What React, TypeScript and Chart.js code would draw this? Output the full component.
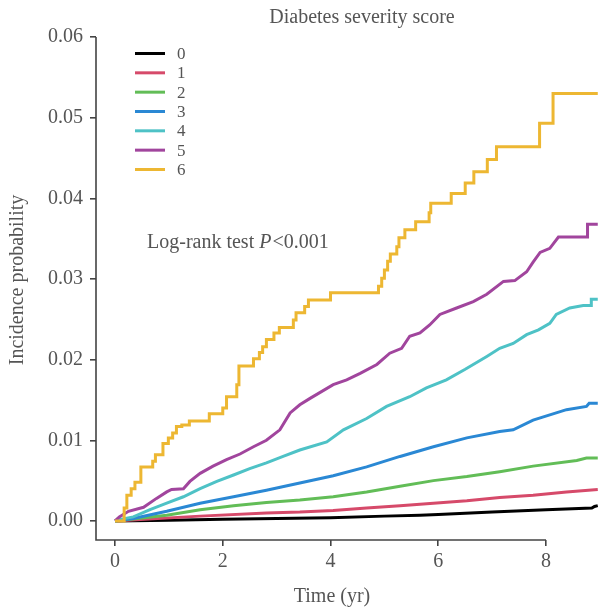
import React, { useEffect, useRef } from "react";
import { Chart, registerables } from "chart.js";
Chart.register(...registerables);

const chartTitle = "Diabetes severity score";
const xTitle = "Time (yr)";
const yTitle = "Incidence probability";
const annotationPrefix = "Log-rank test ";
const annotationItalic = "P";
const annotationSuffix = "<0.001";

const seriesLabels = ["0", "1", "2", "3", "4", "5", "6"];
const seriesColors = ["#000000", "#d64a6a", "#62bd57", "#2a88d4", "#4ec2c6", "#a1459d", "#edb732"];

const xTicks = [0, 2, 4, 6, 8];
const yTicks = [0, 0.01, 0.02, 0.03, 0.04, 0.05, 0.06];

const time0 = [0, 1, 2, 3, 4, 5, 5.66, 6, 7, 8, 8.85, 8.9, 8.96];
const prob0 = [0, 0.0001, 0.0002, 0.0003, 0.0004, 0.0006, 0.0007, 0.0008, 0.0011, 0.0014, 0.0016, 0.0018, 0.0019];

const time1 = [0, 1.58, 2.81, 3.43, 4.05, 4.67, 5.29, 5.91, 6.53, 7.14, 7.76, 8.38, 8.96];
const prob1 = [0, 0.0006, 0.001, 0.0011, 0.0013, 0.0016, 0.0019, 0.0022, 0.0025, 0.0029, 0.0032, 0.0036, 0.0039];

const time2 = [0, 0.96, 1.58, 2.2, 2.81, 3.43, 4.05, 4.67, 5.29, 5.91, 6.53, 7.14, 7.76, 8.57, 8.75, 8.96];
const prob2 = [0, 0.0007, 0.0014, 0.0019, 0.0023, 0.0026, 0.003, 0.0036, 0.0043, 0.005, 0.0055, 0.0061, 0.0068, 0.0075, 0.0078, 0.0078];

const time3 = [0, 0.34, 0.96, 1.58, 2.2, 2.81, 3.43, 4.05, 4.67, 5.29, 5.91, 6.53, 7.14, 7.39, 7.76, 8.38, 8.75, 8.8, 8.96];
const prob3 = [0, 0.0003, 0.0012, 0.0022, 0.003, 0.0038, 0.0047, 0.0056, 0.0067, 0.008, 0.0092, 0.0103, 0.0111, 0.0113, 0.0125, 0.0138, 0.0142, 0.0146, 0.0146];

const time4 = [0, 0.1, 0.34, 0.65, 0.96, 1.27, 1.58, 1.89, 2.2, 2.5, 2.81, 3.12, 3.43, 3.93, 4.24, 4.67, 5.04, 5.47, 5.78, 6.15, 6.5, 6.9, 7.14, 7.39, 7.64, 7.86, 8.07, 8.19, 8.44, 8.69, 8.84, 8.84, 8.96];
const prob4 = [0, 0.0002, 0.0005, 0.0014, 0.0022, 0.003, 0.004, 0.0049, 0.0057, 0.0065, 0.0072, 0.008, 0.0088, 0.0098, 0.0113, 0.0127, 0.0142, 0.0154, 0.0165, 0.0175, 0.0188, 0.0204, 0.0214, 0.022, 0.0231, 0.0237, 0.0245, 0.0256, 0.0264, 0.0267, 0.0267, 0.0275, 0.0275];

const time5 = [0, 0.08, 0.25, 0.53, 0.77, 0.96, 1.05, 1.27, 1.39, 1.58, 1.82, 2.07, 2.32, 2.57, 2.81, 3.06, 3.25, 3.43, 3.62, 4.05, 4.3, 4.55, 4.86, 5.1, 5.32, 5.47, 5.66, 5.84, 6.03, 6.34, 6.65, 6.9, 7.21, 7.42, 7.64, 7.76, 7.89, 8.07, 8.23, 8.77, 8.77, 8.96];
const prob5 = [0, 0.0005, 0.0012, 0.0017, 0.0028, 0.0036, 0.0039, 0.004, 0.0049, 0.0059, 0.0068, 0.0076, 0.0083, 0.0092, 0.01, 0.0113, 0.0134, 0.0144, 0.0152, 0.0169, 0.0175, 0.0183, 0.0194, 0.0208, 0.0214, 0.0229, 0.0233, 0.0243, 0.0256, 0.0264, 0.0272, 0.0281, 0.0297, 0.0298, 0.0309, 0.0321, 0.0333, 0.0338, 0.0352, 0.0352, 0.0368, 0.0368];

const time6 = [0, 0.17, 0.22, 0.3, 0.37, 0.48, 0.7, 0.75, 0.89, 0.99, 1.07, 1.14, 1.24, 1.38, 1.75, 2.0, 2.07, 2.26, 2.3, 2.57, 2.68, 2.74, 2.81, 2.95, 3.05, 3.31, 3.36, 3.52, 3.59, 4.0, 4.89, 4.95, 5.0, 5.06, 5.11, 5.23, 5.27, 5.38, 5.58, 5.83, 5.86, 6.24, 6.5, 6.66, 6.91, 7.08, 7.88, 8.13, 8.96];
const prob6 = [0, 0.0016, 0.0032, 0.004, 0.0048, 0.0067, 0.0074, 0.0082, 0.0096, 0.0103, 0.0109, 0.0117, 0.0119, 0.0124, 0.0133, 0.014, 0.0154, 0.0169, 0.0192, 0.0201, 0.0209, 0.0216, 0.0225, 0.0233, 0.024, 0.0249, 0.0258, 0.0266, 0.0274, 0.0283, 0.0291, 0.0301, 0.0311, 0.0322, 0.0331, 0.034, 0.0351, 0.0361, 0.0371, 0.0382, 0.0394, 0.0406, 0.0419, 0.0433, 0.0448, 0.0464, 0.0493, 0.053, 0.053];

const seriesTimes = [time0, time1, time2, time3, time4, time5, time6];
const seriesProbs = [prob0, prob1, prob2, prob3, prob4, prob5, prob6];
const seriesStepped: (false | "before")[] = [false, false, false, false, false, false, "before"];

const FONT = "'Liberation Serif', 'Times New Roman', serif";
const TEXT_COLOR = "#555555";
const AXIS_COLOR = "#444444";

const decorPlugin = {
  id: "decor",
  afterDraw(chart: any) {
    const ctx = chart.ctx;
    const xs = chart.scales.x;
    const ys = chart.scales.y;
    const area = chart.chartArea;
    ctx.save();
    ctx.strokeStyle = AXIS_COLOR;
    ctx.lineWidth = 1.6;
    ctx.beginPath();
    ctx.moveTo(area.left, ys.getPixelForValue(yTicks[yTicks.length - 1]));
    ctx.lineTo(area.left, area.bottom);
    ctx.lineTo(xs.getPixelForValue(xTicks[xTicks.length - 1]), area.bottom);
    ctx.stroke();

    ctx.fillStyle = TEXT_COLOR;
    ctx.font = `20px ${FONT}`;
    ctx.textAlign = "center";
    ctx.textBaseline = "middle";
    ctx.fillText(chartTitle, 362, 18);

    ctx.fillText(xTitle, 332, 597);

    ctx.save();
    ctx.translate(18, 280);
    ctx.rotate(-Math.PI / 2);
    ctx.fillText(yTitle, 0, 0);
    ctx.restore();

    ctx.textAlign = "left";
    let ax = 147;
    const ay = 243;
    ctx.font = `20px ${FONT}`;
    ctx.fillText(annotationPrefix, ax, ay);
    ax += ctx.measureText(annotationPrefix).width;
    ctx.font = `italic 20px ${FONT}`;
    ctx.fillText(annotationItalic, ax, ay);
    ax += ctx.measureText(annotationItalic).width + 1;
    ctx.font = `20px ${FONT}`;
    ctx.fillText(annotationSuffix, ax, ay);

    ctx.font = `17px ${FONT}`;
    for (let i = 0; i < seriesLabels.length; i++) {
      const ly = 53.5 + i * 19.33;
      ctx.strokeStyle = seriesColors[i];
      ctx.lineWidth = 3;
      ctx.beginPath();
      ctx.moveTo(135, ly);
      ctx.lineTo(165, ly);
      ctx.stroke();
      ctx.fillStyle = TEXT_COLOR;
      ctx.fillText(seriesLabels[i], 177, ly + 1);
    }
    ctx.restore();
  },
};

export default function App() {
  const canvasRef = useRef<HTMLCanvasElement | null>(null);

  useEffect(() => {
    if (!canvasRef.current) return;
    const datasets = seriesLabels.map((label, i) => ({
      label,
      data: seriesTimes[i].map((t, j) => ({ x: t, y: seriesProbs[i][j] })),
      borderColor: seriesColors[i],
      backgroundColor: seriesColors[i],
      borderWidth: 3,
      pointRadius: 0,
      fill: false,
      tension: 0,
      stepped: seriesStepped[i],
      order: seriesLabels.length - 1 - i,
      borderJoinStyle: "miter" as const,
    }));

    const tickFont = { family: FONT, size: 20 };
    const chart = new Chart(canvasRef.current, {
      type: "line",
      data: { datasets },
      plugins: [decorPlugin],
      options: {
        animation: false,
        responsive: false,
        devicePixelRatio: 1,
        layout: { padding: { top: 37, right: 0, bottom: 0, left: 0 } },
        plugins: {
          legend: { display: false },
          title: { display: false },
          tooltip: { enabled: false },
        },
        scales: {
          x: {
            type: "linear",
            min: -0.3527,
            max: 9.02,
            afterBuildTicks: (s: any) => {
              s.ticks = xTicks.map((v) => ({ value: v }));
            },
            afterFit: (s: any) => {
              s.height = 68;
            },
            grid: {
              drawOnChartArea: false,
              drawTicks: true,
              tickLength: 6,
              color: AXIS_COLOR,
              lineWidth: 1.6,
            },
            border: { display: false },
            ticks: {
              font: tickFont,
              color: TEXT_COLOR,
              padding: 4,
              maxRotation: 0,
              autoSkip: false,
              callback: (v: any) => String(v),
            },
          },
          y: {
            type: "linear",
            min: -0.00236,
            max: 0.06,
            afterBuildTicks: (s: any) => {
              s.ticks = yTicks.map((v) => ({ value: v }));
            },
            afterFit: (s: any) => {
              s.width = 96;
            },
            grid: {
              drawOnChartArea: false,
              drawTicks: true,
              tickLength: 6,
              color: AXIS_COLOR,
              lineWidth: 1.6,
            },
            border: { display: false },
            ticks: {
              font: tickFont,
              color: TEXT_COLOR,
              padding: 7,
              autoSkip: false,
              callback: (v: any) => Number(v).toFixed(2),
            },
          },
        },
      },
    } as any);
    return () => chart.destroy();
  }, []);

  return (
    <canvas
      ref={canvasRef}
      width={601}
      height={608}
      style={{ position: "absolute", left: 0, top: 0, width: 601, height: 608 }}
    />
  );
}
